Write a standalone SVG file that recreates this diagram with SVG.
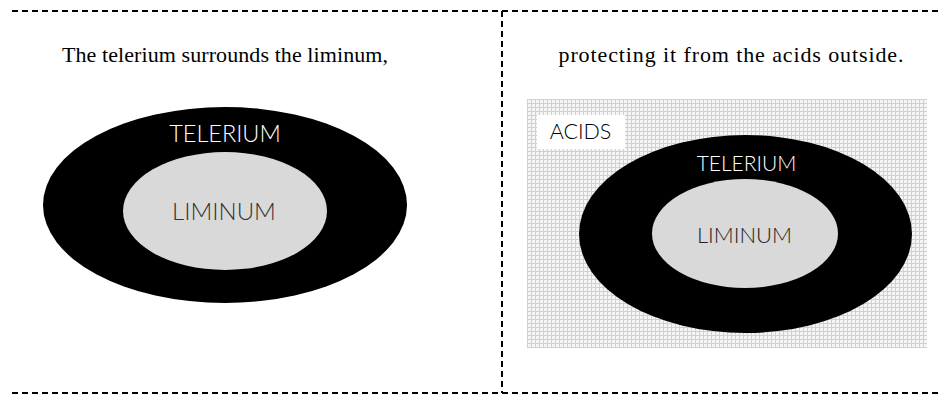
<svg xmlns="http://www.w3.org/2000/svg" width="947" height="395" viewBox="0 0 947 395">
<defs>
<pattern id="grid" x="527" y="99" width="4" height="4" patternUnits="userSpaceOnUse">
<rect width="4" height="4" fill="#f5f5f5"/>
<path d="M0 0.5H4M0.5 0V4" stroke="#d0d0d0" stroke-width="1" fill="none"/>
</pattern>
</defs>
<style>
.dash{stroke:#000;stroke-width:2;stroke-dasharray:6 4;fill:none}
.cap{font-family:"Liberation Serif","Times New Roman",serif;font-size:22px;fill:#000;text-anchor:middle}
.lbl{font-family:Lato,"Open Sans",sans-serif;font-weight:300;text-anchor:middle}
.outer{fill:#000}
.inner{fill:#d9d9d9}
</style>
<g id="frame">
<line class="dash" x1="12" y1="11" x2="940" y2="11"/>
<line class="dash" x1="12" y1="393" x2="940" y2="393"/>
<line class="dash" x1="502" y1="11" x2="502" y2="393"/>
</g>
<g id="caption-left"><text class="cap" x="225" y="62" textLength="326" lengthAdjust="spacing">The telerium surrounds the liminum,</text></g>
<g id="caption-right"><text class="cap" x="731" y="62" textLength="345" lengthAdjust="spacing">protecting it from the acids outside.</text></g>
<g id="left-telerium">
<ellipse class="outer" cx="225" cy="205" rx="182" ry="98"/>
<text class="lbl" x="225" y="142" font-size="23.5" fill="#fff">TELERIUM</text>
</g>
<g id="left-liminum">
<ellipse class="inner" cx="225" cy="211" rx="102" ry="59"/>
<text class="lbl" x="224" y="220" font-size="24" fill="#333">LIMINUM</text>
</g>
<g id="acids">
<rect x="527" y="99" width="400" height="249" fill="url(#grid)"/>
<rect x="537" y="115" width="88" height="34" fill="#fff"/>
<text class="lbl" x="580.5" y="139" font-size="21.5" fill="#000">ACIDS</text>
</g>
<g id="right-telerium">
<ellipse class="outer" cx="745.5" cy="234" rx="166.5" ry="99"/>
<text class="lbl" x="746.5" y="171" font-size="21" fill="#fff">TELERIUM</text>
</g>
<g id="right-liminum">
<ellipse class="inner" cx="745" cy="233.5" rx="93" ry="54.5"/>
<text class="lbl" x="744.5" y="243" font-size="22" fill="#222">LIMINUM</text>
</g>
</svg>
